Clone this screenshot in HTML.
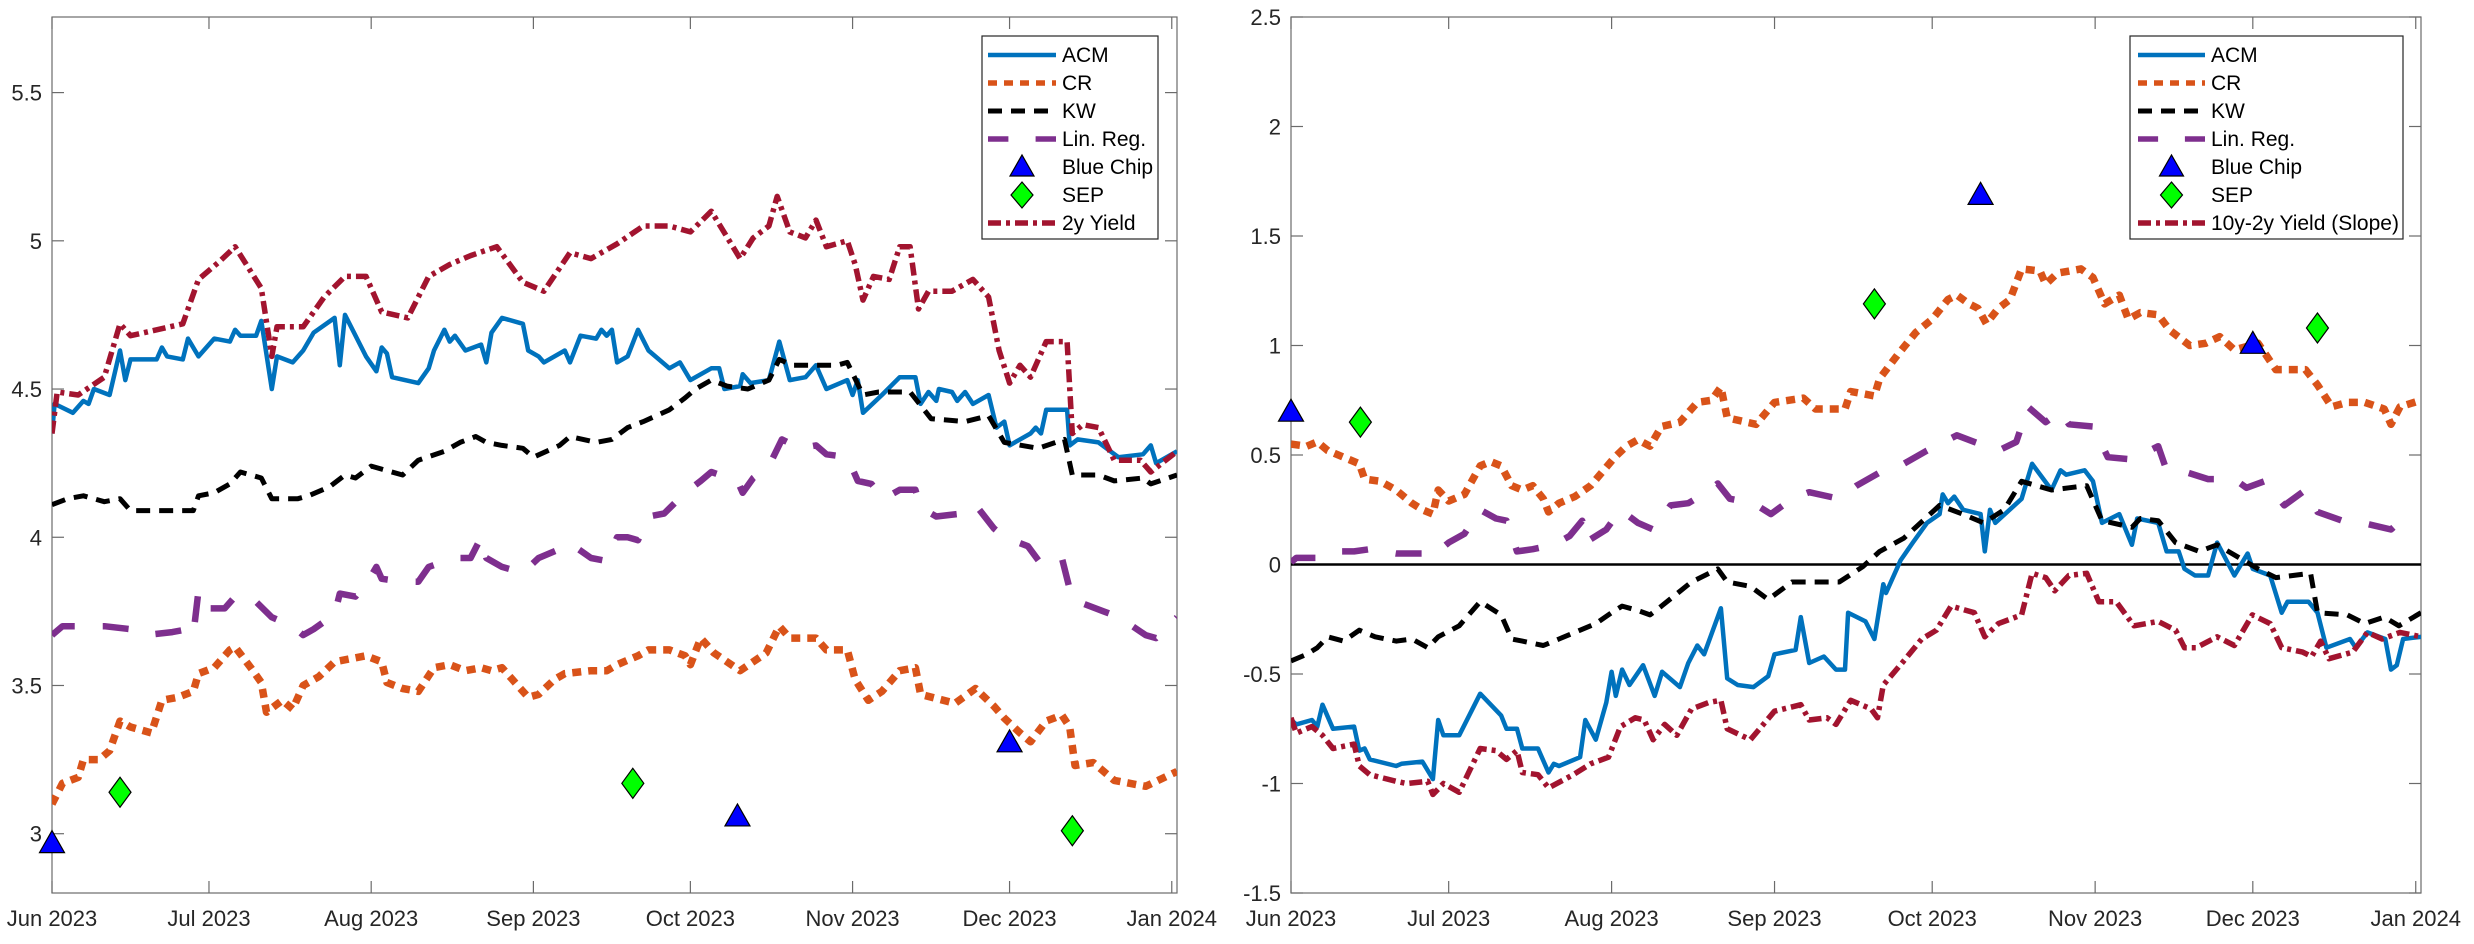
<!DOCTYPE html>
<html><head><meta charset="utf-8"><style>
html,body{margin:0;padding:0;background:#fff;}
svg{display:block;font-family:"Liberation Sans",Arial,sans-serif;}
</style></head><body>
<svg id="fig" width="2474" height="944" viewBox="0 0 2474 944" xmlns="http://www.w3.org/2000/svg"></svg>
<script>
// ===== LEFT PANEL DATA (days since 2023-06-01) =====
const leftYTicks=[3,3.5,4,4.5,5,5.5];
const rightYTicks=[-1.5,-1,-0.5,0,0.5,1,1.5,2,2.5];
const monthDays=[0,30,61,92,122,153,183,214];
const monthLabels=["Jun 2023","Jul 2023","Aug 2023","Sep 2023","Oct 2023","Nov 2023","Dec 2023","Jan 2024"];

const L_y2_d=[0,1,5,10,13,15,20,25,28,32,35,40,42,43,48,52,56,60,63,68,72,76,80,85,90,94,99,103,108,113,118,122,126,131.5,134,137,138.6,141,144,146,148,152,153.5,155,157,160,162,164,165.6,167.5,172,176,179,181,183,185,187,190,194,195,197,200,203,208,210,215];
const L_y2_v=[4.35,4.49,4.48,4.54,4.72,4.68,4.70,4.72,4.87,4.93,4.98,4.84,4.61,4.71,4.71,4.81,4.88,4.88,4.76,4.74,4.88,4.92,4.95,4.98,4.86,4.83,4.96,4.94,4.99,5.05,5.05,5.03,5.10,4.94,5.01,5.05,5.15,5.03,5.01,5.07,4.98,5.00,4.92,4.80,4.88,4.87,4.98,4.98,4.77,4.83,4.83,4.87,4.81,4.63,4.52,4.58,4.54,4.66,4.66,4.35,4.38,4.37,4.26,4.26,4.22,4.29];

const L_acm_d=[0,0.5,4,6,7,8,11,13,14,15,20,21,22,25,26,28,31,34,35,36,39,40,42,43,46,48,50,54,55,56,60,62,63,64,65,70,72,73,75,76,77,79,82,83,84,86,90,91,93,94,98,99,101,104,105,106,107,108,110,112,114,118,120,122,126,127.5,128.5,131.5,132,133.5,137,139,141,144,146,148,152,153,154,155,158.6,162,165,166,167.5,169,169.5,172,173,174.5,176,179,180.5,182,183,185,187,188,189,190,194,194.5,196,200,203.8,208.5,210,211,215];
const L_acm_v=[4.35,4.45,4.42,4.46,4.45,4.50,4.48,4.63,4.53,4.60,4.60,4.64,4.61,4.60,4.67,4.61,4.67,4.66,4.70,4.68,4.68,4.73,4.50,4.61,4.59,4.63,4.69,4.74,4.58,4.75,4.61,4.56,4.64,4.62,4.54,4.52,4.57,4.63,4.70,4.66,4.68,4.63,4.65,4.59,4.69,4.74,4.72,4.63,4.61,4.59,4.63,4.59,4.68,4.67,4.70,4.68,4.70,4.59,4.61,4.70,4.63,4.57,4.59,4.53,4.57,4.57,4.50,4.51,4.55,4.52,4.53,4.66,4.53,4.54,4.58,4.50,4.53,4.48,4.53,4.42,4.48,4.54,4.54,4.45,4.49,4.46,4.50,4.49,4.46,4.49,4.45,4.48,4.37,4.39,4.31,4.33,4.35,4.37,4.35,4.43,4.43,4.31,4.33,4.32,4.27,4.28,4.31,4.25,4.29];

const L_kw_d=[0,3,6,10,13,15,20,25,27,28,31,34,36,40,42,47,49,53,56,58,61,63,67,70,75,78,81,83,86,90,92,97,99,104,107,110,113,118,121,123,126,129,133,137,139,141.5,146,150,152,155,158,164,168,174.5,179,182,188.5,193.5,195,200,203,208.5,210,215];
const L_kw_v=[4.11,4.13,4.14,4.12,4.13,4.09,4.09,4.09,4.09,4.14,4.15,4.18,4.22,4.20,4.13,4.13,4.14,4.17,4.21,4.20,4.24,4.23,4.21,4.26,4.29,4.32,4.34,4.32,4.31,4.30,4.27,4.31,4.34,4.32,4.33,4.37,4.39,4.43,4.47,4.50,4.53,4.51,4.50,4.53,4.60,4.58,4.58,4.58,4.59,4.48,4.49,4.49,4.40,4.39,4.41,4.32,4.30,4.33,4.21,4.21,4.19,4.20,4.18,4.21];

const L_lr_d=[0,2,6,10,15,18,23,26,27,28,30,33,35,38,42,46,48,50,54,55,58,61,62,63,67,70,72,77,80,82,83,86,90,93,97,99,103,106,108,110,112,114,117,121,124,126,131,132,134,137,139.5,143,146,148,152,154,156.6,159,162,165,166,169,174,176.5,180,182,186.5,189,193,195,201,204,209,211,215];
const L_lr_v=[3.67,3.70,3.70,3.70,3.69,3.67,3.68,3.69,3.67,3.82,3.76,3.76,3.80,3.80,3.73,3.70,3.67,3.69,3.74,3.81,3.80,3.87,3.90,3.86,3.85,3.85,3.90,3.93,3.93,4.00,3.93,3.90,3.88,3.93,3.96,3.98,3.93,3.92,4.00,4.00,3.99,4.07,4.08,4.15,4.19,4.22,4.19,4.15,4.20,4.24,4.33,4.30,4.31,4.28,4.27,4.19,4.18,4.13,4.16,4.16,4.10,4.07,4.08,4.11,4.03,4.00,3.97,3.91,3.93,3.79,3.75,3.73,3.67,3.66,3.73];

const L_cr_d=[0,2,5,6,9,11,13,15,19,21,24,27,28,31,34,35,38,40,41,44,46,48,51,54,57,60,63,64,67,70,73,76,79,82,84,86,89,91,93,96,98,103,106,108,112,114,118,121,122,124,126.5,131.5,136.5,139,141,146,148,152,153.5,156,158.6,162,165,166,172.6,176.5,180,182,185,187,190,193,194.5,195.5,199,203,209,215];
const L_cr_v=[3.10,3.17,3.19,3.25,3.25,3.28,3.38,3.36,3.34,3.45,3.46,3.48,3.54,3.56,3.62,3.63,3.56,3.51,3.41,3.45,3.42,3.50,3.53,3.58,3.59,3.60,3.58,3.51,3.49,3.48,3.56,3.57,3.55,3.56,3.55,3.56,3.50,3.46,3.47,3.52,3.54,3.55,3.55,3.57,3.60,3.62,3.62,3.60,3.57,3.66,3.61,3.55,3.61,3.70,3.66,3.66,3.62,3.62,3.52,3.45,3.48,3.55,3.56,3.47,3.44,3.49,3.43,3.39,3.34,3.31,3.38,3.40,3.36,3.23,3.24,3.18,3.16,3.21];

const L_bc_d=[0,131,183];
const L_bc_v=[2.97,3.06,3.31];
const L_sep_d=[13,111,195];
const L_sep_v=[3.14,3.17,3.01];

// ===== RIGHT PANEL DATA =====
const R_acm_d=[0,1,4,5,6,8,12,13,14,15,20,21,25,27,28,29,32,36,40,41,43,44,47,49,50,51,55,56,58,60,61,61.8,63,64.4,67,69.2,70.6,74,75.6,77.3,78.6,81.8,83,85,88,90.8,92,96,97,98.6,101.4,103.7,105.4,106,109.3,111,112.7,113.2,116,118.3,121,123.4,124,125,126.2,127.9,131.2,132,133,134,139,141,144.7,146.4,147.5,151,152.6,154.3,157.6,160,161,165,166.6,168.9,170,172,174.5,176.2,179.5,182,183,186.3,188.5,189.6,193.6,195.3,197,201.5,202.6,204.8,208.2,209.3,210.4,211.6,215];
const R_acm_v=[-0.71,-0.73,-0.71,-0.74,-0.64,-0.75,-0.74,-0.85,-0.84,-0.89,-0.92,-0.91,-0.90,-0.98,-0.71,-0.78,-0.78,-0.59,-0.69,-0.75,-0.75,-0.84,-0.84,-0.95,-0.91,-0.92,-0.88,-0.71,-0.80,-0.63,-0.49,-0.60,-0.48,-0.55,-0.46,-0.60,-0.49,-0.56,-0.45,-0.37,-0.41,-0.20,-0.52,-0.55,-0.56,-0.51,-0.41,-0.39,-0.24,-0.45,-0.42,-0.48,-0.48,-0.22,-0.26,-0.34,-0.09,-0.13,0.02,0.10,0.19,0.23,0.32,0.28,0.31,0.25,0.23,0.06,0.25,0.19,0.30,0.46,0.34,0.43,0.41,0.43,0.38,0.19,0.23,0.09,0.21,0.19,0.06,0.06,-0.02,-0.05,-0.05,0.10,-0.05,0.05,-0.02,-0.05,-0.22,-0.17,-0.17,-0.22,-0.38,-0.34,-0.38,-0.31,-0.34,-0.48,-0.46,-0.34,-0.33];

const R_cr_d=[0,3,5,7,10,13,14,17,20,23,25,27,28,30,33,36,38,40,42,44,46,48,49,51,54,57,61.6,63.8,66,68.3,70.5,74,77.3,80,81.8,83,88.5,92,97.5,99.8,105.4,106.5,111,112,115.5,118.9,122,125,126.7,129,130.7,132.3,134.6,136.8,139,142.5,143.6,145.8,150.3,152.6,154.8,157.6,159.3,161.6,165,167.2,171,174,176.7,179.5,184,187.4,193,195.3,198,201,204.3,208,209.3,211,215];
const R_cr_v=[0.55,0.54,0.56,0.52,0.49,0.46,0.39,0.38,0.34,0.28,0.25,0.23,0.34,0.29,0.32,0.45,0.47,0.45,0.36,0.34,0.36,0.30,0.24,0.28,0.31,0.36,0.49,0.54,0.57,0.54,0.63,0.65,0.74,0.75,0.81,0.67,0.64,0.74,0.76,0.71,0.71,0.79,0.77,0.85,0.96,1.06,1.12,1.21,1.23,1.19,1.17,1.10,1.17,1.21,1.35,1.34,1.28,1.33,1.35,1.31,1.19,1.23,1.12,1.15,1.14,1.07,1.00,1.01,1.04,0.98,1.01,0.89,0.89,0.82,0.72,0.74,0.74,0.71,0.64,0.72,0.75];

const R_kw_d=[0,3,5,7,10,13,16,20,23,26,28,32,36,40,42,44,48,51,55,58,61,63,66,68.3,70.5,76.2,81.2,83,87.4,90.8,95.3,104.3,108.8,112,116.6,123.4,127.8,131.8,135.7,139,144.7,148,151.4,154.3,160,161.6,165,168.3,172.8,176.2,184,187.4,194,195.3,201,204.3,208,210.8,215];
const R_kw_v=[-0.44,-0.41,-0.38,-0.33,-0.35,-0.30,-0.33,-0.35,-0.34,-0.38,-0.33,-0.28,-0.17,-0.23,-0.34,-0.35,-0.37,-0.34,-0.30,-0.27,-0.22,-0.19,-0.21,-0.23,-0.19,-0.08,-0.02,-0.08,-0.10,-0.16,-0.08,-0.08,-0.01,0.06,0.12,0.27,0.23,0.19,0.25,0.38,0.34,0.35,0.36,0.20,0.17,0.21,0.20,0.10,0.06,0.09,-0.02,-0.06,-0.04,-0.22,-0.23,-0.27,-0.24,-0.28,-0.22];

const R_lr_d=[0,1,5,8,12,15,20,25,27,30,33,36,39,41,43,46,50,53,55.4,56,60,62.7,66,68.9,72.2,75.6,78.4,81.2,83.5,88,91.3,95.3,98.6,104.3,107.6,112,116.6,121,126.7,130,134.6,138,140.2,143.6,146.4,148,152.6,155.4,160,165,166.6,170.5,174.5,179.5,181.8,185.2,189,193,195.3,200,203.9,209.3,211.6];
const R_lr_v=[0.01,0.03,0.03,0.06,0.06,0.07,0.05,0.05,0.04,0.10,0.14,0.25,0.21,0.20,0.06,0.07,0.09,0.13,0.20,0.10,0.16,0.25,0.19,0.16,0.27,0.28,0.32,0.37,0.30,0.28,0.23,0.30,0.33,0.30,0.36,0.42,0.46,0.52,0.59,0.56,0.52,0.56,0.72,0.65,0.70,0.64,0.63,0.49,0.48,0.54,0.43,0.42,0.39,0.39,0.35,0.38,0.27,0.34,0.24,0.20,0.19,0.16,0.21];

const R_sl_d=[0,1,4,6,8,12,13,15,20,22,26,27,29,32,36,39,41,43,44,47,49,53.7,57,60.4,62.7,65.5,67.2,68.9,71.1,73.4,76.2,79.5,81.8,83,87.4,92,97,98.6,102,103.7,106.5,110.4,111.6,112.7,116.6,120,122.8,125.6,130,132,134.6,139,141,143.6,145.3,148,151.4,153.7,157,160.4,165,168.3,170,172.2,176.2,179.5,182.9,186.3,188.5,192.5,194.2,195.9,197.5,202,204.8,207.6,211,215];
const R_sl_v=[-0.70,-0.77,-0.74,-0.78,-0.84,-0.82,-0.92,-0.96,-0.99,-1.00,-0.99,-1.05,-1.00,-1.04,-0.84,-0.85,-0.89,-0.85,-0.95,-0.96,-1.02,-0.96,-0.91,-0.88,-0.74,-0.70,-0.71,-0.80,-0.73,-0.78,-0.66,-0.63,-0.62,-0.75,-0.80,-0.67,-0.64,-0.71,-0.70,-0.73,-0.62,-0.66,-0.70,-0.55,-0.44,-0.34,-0.30,-0.19,-0.22,-0.33,-0.27,-0.23,-0.04,-0.06,-0.12,-0.05,-0.04,-0.17,-0.17,-0.28,-0.26,-0.30,-0.38,-0.38,-0.33,-0.37,-0.23,-0.27,-0.38,-0.40,-0.42,-0.35,-0.43,-0.40,-0.31,-0.34,-0.31,-0.33];

const R_bc_d=[0,131.2,183];
const R_bc_v=[0.70,1.69,1.01];
const R_sep_d=[13.2,111,195.3];
const R_sep_v=[0.65,1.19,1.08];

// ===== DRAWING =====
const NS="http://www.w3.org/2000/svg";
const svg=document.getElementById('fig');
function mk(tag,attrs,parent){const e=document.createElementNS(NS,tag);for(const k in attrs)e.setAttribute(k,attrs[k]);(parent||svg).appendChild(e);return e;}

const COL={acm:"#0072BD",cr:"#D95319",kw:"#000000",lr:"#7E2F8E",yl:"#A2142F"};
const STY={
 acm:{w:4.5,dash:null},
 cr:{w:7.5,dash:"9 7"},
 kw:{w:5,dash:"14 9"},
 lr:{w:6.5,dash:"26 28"},
 yl:{w:5.5,dash:"13 5 4 5"}
};

function makePanel(cfg){
  const g=mk('g',{});
  
  
  const X=d=>cfg.x0+(d-cfg.dmin)*(cfg.x1-cfg.x0)/(cfg.dmax-cfg.dmin);
  const Y=v=>cfg.yb-(v-cfg.vmin)*(cfg.yb-cfg.yt)/(cfg.vmax-cfg.vmin);
  const box=mk('rect',{x:cfg.x0,y:cfg.yt,width:cfg.x1-cfg.x0,height:cfg.yb-cfg.yt,fill:'#fff',stroke:'#6b6b6b','stroke-width':1.2},g);
  
  
  cfg.yticks.forEach(t=>{
    const y=Y(t);
    mk('line',{x1:cfg.x0,x2:cfg.x0+12,y1:y,y2:y,stroke:'#6b6b6b','stroke-width':1.2},g);
    mk('line',{x1:cfg.x1,x2:cfg.x1-12,y1:y,y2:y,stroke:'#6b6b6b','stroke-width':1.2},g);
    const tx=mk('text',{x:cfg.x0-10,y:y+8,'text-anchor':'end','font-size':22,fill:'#262626'},g);
    
    
    tx.textContent=String(t);
  });
  monthDays.forEach((d,i)=>{
    const x=X(d);
    mk('line',{x1:x,x2:x,y1:cfg.yb,y2:cfg.yb-12,stroke:'#6b6b6b','stroke-width':1.2},g);
    mk('line',{x1:x,x2:x,y1:cfg.yt,y2:cfg.yt+12,stroke:'#6b6b6b','stroke-width':1.2},g);
    const tx=mk('text',{x:x,y:926,'text-anchor':'middle','font-size':22,fill:'#262626'},g);
    
    
    tx.textContent=monthLabels[i];
  });
  const clipId='clip-'+cfg.name;
  const cp=mk('clipPath',{id:clipId},g);
  mk('rect',{x:cfg.x0,y:cfg.yt,width:cfg.x1-cfg.x0,height:cfg.yb-cfg.yt},cp);
  const pg=mk('g',{'clip-path':'url(#'+clipId+')'},g);
  if(cfg.zero){
    const zl=mk('line',{x1:cfg.x0,x2:cfg.x1,y1:Y(0),y2:Y(0),stroke:'#000','stroke-width':2.5},pg);
    
    
  }
  cfg.series.forEach(s=>{
    const pts=s.d.map((d,i)=>X(d).toFixed(1)+','+Y(s.v[i]).toFixed(1)).join(' ');
    const st=STY[s.k];
    const a={points:pts,fill:'none',stroke:COL[s.k],'stroke-width':st.w,'stroke-linejoin':'round'};
    if(st.dash)a['stroke-dasharray']=st.dash;
    const pl=mk('polyline',a,pg);
    
    
  });
  cfg.bc.d.forEach((d,i)=>{
    const x=X(d),y=Y(cfg.bc.v[i]);
    const tr=mk('polygon',{points:`${x-12.5},${y+10} ${x+12.5},${y+10} ${x},${y-12}`,fill:'#0000FF',stroke:'#000','stroke-width':1.2},g);
    
    
  });
  cfg.sep.d.forEach((d,i)=>{
    const x=X(d),y=Y(cfg.sep.v[i]);
    const dm=mk('polygon',{points:`${x},${y-15} ${x+11},${y} ${x},${y+15} ${x-11},${y}`,fill:'#00FF00',stroke:'#000','stroke-width':1.2},g);
    
    
  });
  const lg=mk('g',{},g);
  
  
  mk('rect',{x:cfg.lx0,y:36,width:cfg.lx1-cfg.lx0,height:203,fill:'#fff',stroke:'#262626','stroke-width':1.2},lg);
  const entries=[["acm","ACM"],["cr","CR"],["kw","KW"],["lr","Lin. Reg."],["bc","Blue Chip"],["sep","SEP"],["yl",cfg.ylLabel]];
  entries.forEach((e,i)=>{
    const y=55+i*28;
    const eg=mk('g',{},lg);
    
    
    const sx0=cfg.lx0+cfg.ls0, sx1=cfg.lx0+cfg.ls1, cx=(sx0+sx1)/2;
    if(e[0]==='bc'){
      mk('polygon',{points:`${cx-12},${y+9} ${cx+12},${y+9} ${cx},${y-12}`,fill:'#0000FF',stroke:'#000','stroke-width':1.2},eg);
    }else if(e[0]==='sep'){
      mk('polygon',{points:`${cx},${y-13} ${cx+11},${y} ${cx},${y+13} ${cx-11},${y}`,fill:'#00FF00',stroke:'#000','stroke-width':1.2},eg);
    }else{
      const st=STY[e[0]];
      const a={x1:sx0,x2:sx1,y1:y,y2:y,stroke:COL[e[0]],'stroke-width':Math.min(st.w,5.5)};
      if(e[0]==='lr')a['stroke-dasharray']=(sx1-sx0)*0.3+' '+(sx1-sx0)*0.4;
      else if(st.dash)a['stroke-dasharray']=st.dash;
      mk('line',a,eg);
    }
    const t=mk('text',{x:cfg.lx0+cfg.lt,y:y+7,'font-size':21,fill:'#000'},eg);
    t.textContent=e[1];
  });
}

makePanel({name:'left-chart',x0:52,x1:1177,yt:17,yb:893,dmin:0,dmax:215,vmin:2.8,vmax:5.755,
  yticks:leftYTicks,zero:false,lx0:982,lx1:1158,ls0:6,ls1:74,lt:80,ylLabel:"2y Yield",
  series:[{k:'acm',name:'acm-line',d:L_acm_d,v:L_acm_v},{k:'cr',name:'cr-line',d:L_cr_d,v:L_cr_v},
          {k:'kw',name:'kw-line',d:L_kw_d,v:L_kw_v},{k:'lr',name:'lin-reg-line',d:L_lr_d,v:L_lr_v},
          {k:'yl',name:'2y-yield-line',d:L_y2_d,v:L_y2_v}],
  bc:{d:L_bc_d,v:L_bc_v},sep:{d:L_sep_d,v:L_sep_v}});

makePanel({name:'right-chart',x0:1291,x1:2421,yt:17,yb:893,dmin:0,dmax:215,vmin:-1.5,vmax:2.5,
  yticks:rightYTicks,zero:true,lx0:2130,lx1:2403,ls0:8,ls1:75,lt:81,ylLabel:"10y-2y Yield (Slope)",
  series:[{k:'acm',name:'acm-line',d:R_acm_d,v:R_acm_v},{k:'cr',name:'cr-line',d:R_cr_d,v:R_cr_v},
          {k:'kw',name:'kw-line',d:R_kw_d,v:R_kw_v},{k:'lr',name:'lin-reg-line',d:R_lr_d,v:R_lr_v},
          {k:'yl',name:'slope-line',d:R_sl_d,v:R_sl_v}],
  bc:{d:R_bc_d,v:R_bc_v},sep:{d:R_sep_d,v:R_sep_v}});
</script>
</body></html>
